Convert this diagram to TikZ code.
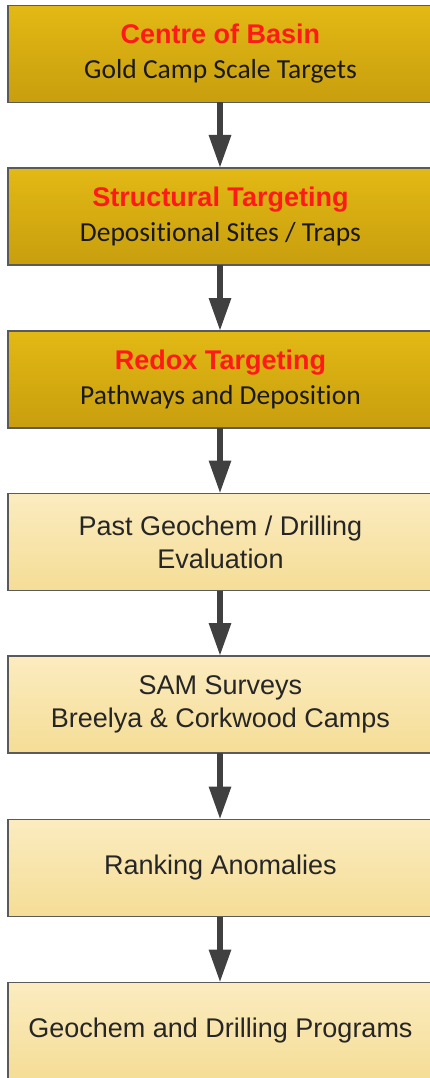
\documentclass[tikz,border=0pt]{standalone}
\usepackage{fontspec}
\setmainfont{Liberation Sans}
\newfontfamily\calfont[Ligatures=NoCommon]{Carlito}
\usetikzlibrary{arrows.meta}
\definecolor{goldtop}{HTML}{E2B914}
\definecolor{goldbot}{HTML}{C89E0E}
\definecolor{paletop}{HTML}{FBECC0}
\definecolor{palebot}{HTML}{F5DD96}
\definecolor{edge}{HTML}{5A5A5A}
\definecolor{arrowgray}{HTML}{404040}
\definecolor{titlered}{HTML}{FF1A1A}
\newcommand{\ttl}[1]{{\rmfamily\bfseries\fontsize{27}{35}\selectfont\color{titlered}#1}}
\tikzset{
  box/.style={rectangle, draw=edge, line width=1.4pt, minimum width=425pt, minimum height=97pt, inner sep=0pt, outer sep=0pt, align=center},
  goldbox/.style={box, top color=goldtop, bottom color=goldbot, font=\calfont\fontsize{27.5}{35}\selectfont, text=black!90},
  palebox/.style={box, top color=paletop, bottom color=palebot, font=\fontsize{27}{33}\selectfont, text=black!85},
  flow/.style={draw=arrowgray, line width=6pt, -{Triangle[length=33pt,width=21pt]}}
}
\begin{document}
\begin{tikzpicture}[x=1pt,y=-1pt]
\useasboundingbox (0,0) rectangle (430,1078);
\clip (0,0) rectangle (430,1078);
\node[goldbox] (b1) at (220.5,54) {\ttl{Centre of Basin}\\Gold Camp Scale Targets};
\node[goldbox] (b2) at (220.5,216.5) {\ttl{Structural Targeting}\\Depositional Sites / Traps};
\node[goldbox] (b3) at (220.5,379.5) {\ttl{Redox Targeting}\\Pathways and Deposition};
\node[palebox] (b4) at (220.5,542) {Past Geochem / Drilling\\Evaluation};
\node[palebox] (b5) at (220.5,704.5) {SAM Surveys\\Breelya \& Corkwood Camps};
\node[palebox] (b6) at (220.5,868) {Ranking Anomalies};
\node[palebox] (b7) at (220.5,1031) {Geochem and Drilling Programs};
\foreach \a/\b in {b1/b2,b2/b3,b3/b4,b4/b5,b5/b6,b6/b7}
  \draw[flow] (\a.south -| 220,0) -- (\b.north -| 220,0);
\end{tikzpicture}
\end{document}
